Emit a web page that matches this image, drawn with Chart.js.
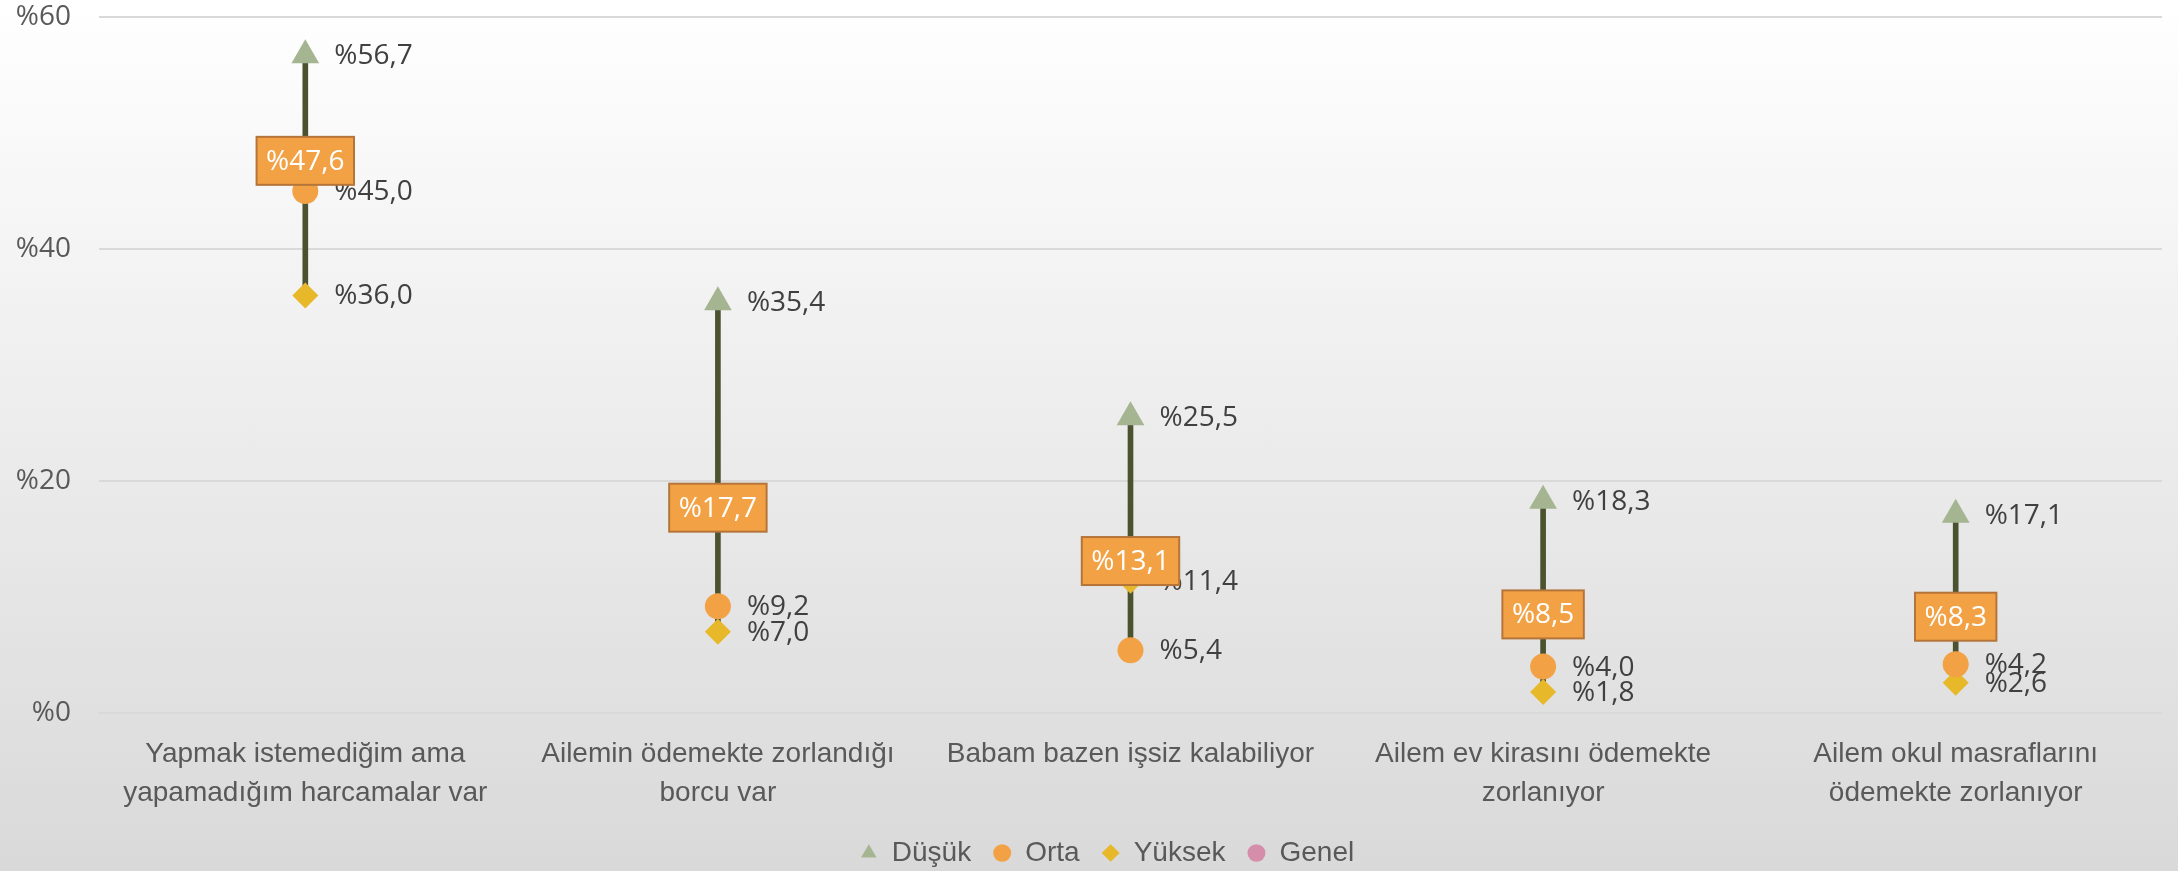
<!DOCTYPE html>
<html>
<head>
<meta charset="utf-8">
<script src="https://cdn.jsdelivr.net/npm/chart.js@4"></script>
<style>
html, body { margin: 0; padding: 0; }
body { width: 2178px; height: 871px; background: linear-gradient(#ffffff, #d9d9d9); overflow: hidden; }
canvas { display: block; }
</style>
</head>
<body>
<canvas id="chart" width="2178" height="871"></canvas>
<script>
const categories = [
    ['Yapmak istemediğim ama', 'yapamadığım harcamalar var'],
    ['Ailemin ödemekte zorlandığı', 'borcu var'],
    'Babam bazen işsiz kalabiliyor',
    ['Ailem ev kirasını ödemekte', 'zorlanıyor'],
    ['Ailem okul masraflarını', 'ödemekte zorlanıyor']
];
const dusuk = [56.7, 35.4, 25.5, 18.3, 17.1];
const orta = [45.0, 9.2, 5.4, 4.0, 4.2];
const yuksek = [36.0, 7.0, 11.4, 1.8, 2.6];
const genel = [47.6, 17.7, 13.1, 8.5, 8.3];
const yTicks = [0, 20, 40, 60];

const fmt = v => '%' + v.toFixed(1).replace('.', ',');

// high-low range for each category, from all four series
const ranges = categories.map((c, i) => {
    const vals = [dusuk[i], orta[i], yuksek[i], genel[i]];
    return [Math.min(...vals), Math.max(...vals)];
});

const labelPlugin = {
    id: 'valueLabels',
    afterLayout(chart) {
        // legend sits a bit right of the canvas centre in the original
        chart.legend.left += 18;
        chart.legend.right += 18;
    },
    afterDatasetsDraw(chart) {
        const ctx = chart.ctx;
        ctx.save();
        ctx.font = '28px "Open Sans"';
        ctx.textBaseline = 'middle';
        chart.data.datasets.forEach((ds, i) => {
            if (!ds.sideLabel) return;
            chart.getDatasetMeta(i).data.forEach((pt, j) => {
                ctx.fillStyle = '#404040';
                ctx.textAlign = 'left';
                ctx.fillText(fmt(ds.data[j]), pt.x + 29, pt.y + 1);
            });
        });
        chart.data.datasets.forEach((ds, i) => {
            if (!ds.boxLabel) return;
            chart.getDatasetMeta(i).data.forEach((pt, j) => {
                const txt = fmt(ds.data[j]);
                const w = ctx.measureText(txt).width + 19;
                const h = 48;
                ctx.fillStyle = '#f2a245';
                ctx.fillRect(pt.x - w / 2, pt.y - h / 2, w, h);
                ctx.strokeStyle = '#b5753a';
                ctx.lineWidth = 2;
                ctx.strokeRect(pt.x - w / 2, pt.y - h / 2, w, h);
                ctx.fillStyle = '#ffffff';
                ctx.textAlign = 'center';
                ctx.fillText(txt, pt.x, pt.y + 1);
            });
        });
        ctx.restore();
    }
};

function pointSet(label, data, color, style, radius) {
    return {
        type: 'line',
        label: label,
        data: data,
        showLine: false,
        pointStyle: style,
        pointRadius: radius,
        pointHoverRadius: radius,
        pointBorderWidth: 0,
        backgroundColor: color,
        borderColor: color,
        pointBackgroundColor: color,
        order: 1
    };
}

const dsDusuk = pointSet('Düşük', dusuk, '#a5b592', 'triangle', 16);
dsDusuk.sideLabel = true;
const dsOrta = pointSet('Orta', orta, '#f2a245', 'circle', 13);
dsOrta.sideLabel = true;
const dsYuksek = pointSet('Yüksek', yuksek, '#e6b82a', 'rectRot', 13);
dsYuksek.sideLabel = true;
const dsGenel = pointSet('Genel', genel, '#d48ea9', 'circle', 8);
dsGenel.boxLabel = true;

new Chart(document.getElementById('chart'), {
    type: 'line',
    data: {
        labels: categories,
        datasets: [
            dsDusuk, dsOrta, dsYuksek, dsGenel,
            {
                type: 'bar',
                label: 'range',
                data: ranges,
                backgroundColor: '#4b5230',
                barThickness: 5,
                order: 5
            }
        ]
    },
    options: {
        responsive: false,
        animation: false,
        devicePixelRatio: 1,
        layout: { padding: { top: 17, right: 0, left: 0, bottom: -6 } },
        plugins: {
            tooltip: { enabled: false },
            legend: {
                position: 'bottom',
                labels: {
                    usePointStyle: true,
                    pointStyleWidth: 18,
                    boxHeight: 12.5,
                    padding: 22,
                    color: '#595959',
                    font: { family: 'Liberation Sans', size: 28 },
                    filter: item => item.datasetIndex < 4
                }
            }
        },
        scales: {
            x: {
                offset: true,
                afterFit: axis => { axis.height = 104; },
                grid: { display: false, drawTicks: false },
                border: { display: false },
                ticks: {
                    color: '#595959',
                    font: { family: 'Liberation Sans', size: 28, lineHeight: 1.38 },
                    padding: 22,
                    maxRotation: 0,
                    autoSkip: false
                }
            },
            y: {
                min: 0,
                max: 60,
                afterBuildTicks: axis => { axis.ticks = yTicks.map(v => ({ value: v })); },
                afterFit: axis => { axis.width = 99; axis.paddingTop = 0; axis.paddingBottom = 0; },
                grid: { color: '#d9d9d9', lineWidth: 2, drawTicks: false },
                border: { display: false },
                ticks: {
                    color: '#595959',
                    font: { family: 'Open Sans', size: 28 },
                    padding: 28,
                    callback: v => '%' + v
                }
            }
        }
    },
    plugins: [labelPlugin]
});
</script>
</body>
</html>
